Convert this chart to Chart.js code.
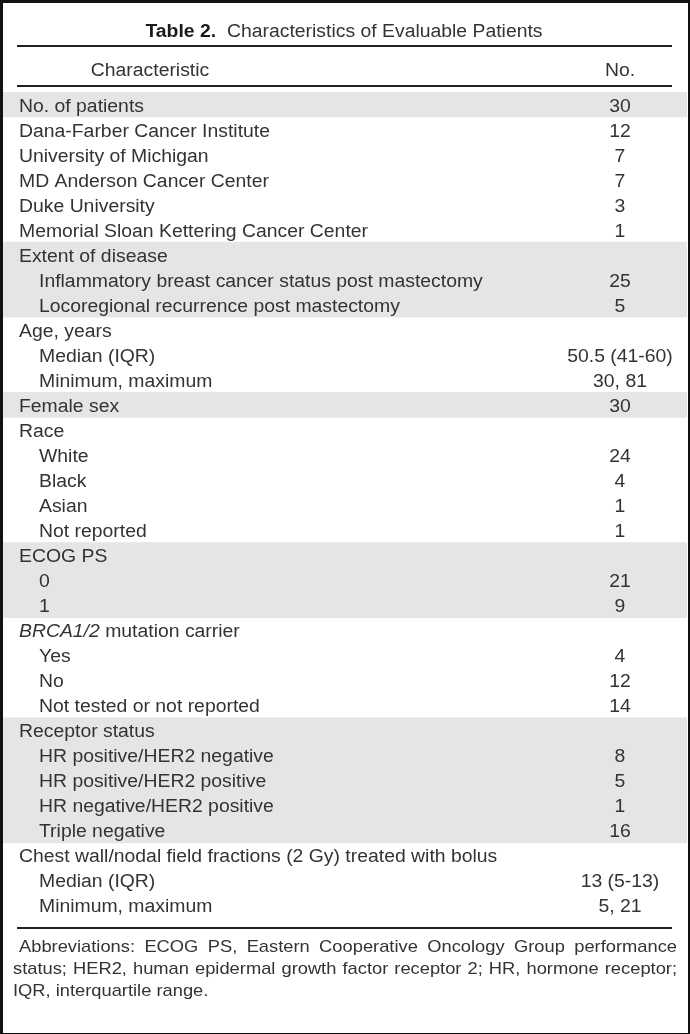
<!DOCTYPE html>
<html>
<head>
<meta charset="utf-8">
<script src="https://cdn.jsdelivr.net/npm/chart.js@4.4.1/dist/chart.umd.min.js"></script>
<style>
  html, body { margin: 0; padding: 0; background: #fff; }
  canvas { display: block; }
</style>
</head>
<body>
<canvas id="table-chart" width="690" height="1034"></canvas>
<script>
// table rows (level 0 = heading, 1 = indented sub row)
const rowLabels = [
  "No. of patients",
  "Dana-Farber Cancer Institute",
  "University of Michigan",
  "MD Anderson Cancer Center",
  "Duke University",
  "Memorial Sloan Kettering Cancer Center",
  "Extent of disease",
  "Inflammatory breast cancer status post mastectomy",
  "Locoregional recurrence post mastectomy",
  "Age, years",
  "Median (IQR)",
  "Minimum, maximum",
  "Female sex",
  "Race",
  "White",
  "Black",
  "Asian",
  "Not reported",
  "ECOG PS",
  "0",
  "1",
  "*BRCA1/2* mutation carrier",
  "Yes",
  "No",
  "Not tested or not reported",
  "Receptor status",
  "HR positive/HER2 negative",
  "HR positive/HER2 positive",
  "HR negative/HER2 positive",
  "Triple negative",
  "Chest wall/nodal field fractions (2 Gy) treated with bolus",
  "Median (IQR)",
  "Minimum, maximum"
];
const rowLevels = [0,0,0,0,0,0, 0,1,1, 0,1,1, 0, 0,1,1,1,1, 0,1,1, 0,1,1,1, 0,1,1,1,1, 0,1,1];
const rowValues = [
  "30","12","7","7","3","1",
  "","25","5",
  "","50.5 (41-60)","30, 81",
  "30",
  "","24","4","1","1",
  "","21","9",
  "","4","12","14",
  "","8","5","1","16",
  "","13 (5-13)","5, 21"
];
// row groups, shaded bands alternate by group
const rowGroups = [0,1,1,1,1,1, 2,2,2, 3,3,3, 4, 5,5,5,5,5, 6,6,6, 7,7,7,7, 8,8,8,8,8, 9,9,9];

const titleBold = "Table 2.";
const titleText = "Characteristics of Evaluable Patients";
const headers = ["Characteristic", "No."];
const footLines = [
  "Abbreviations: ECOG PS, Eastern Cooperative Oncology Group performance",
  "status; HER2, human epidermal growth factor receptor 2; HR, hormone receptor;",
  "IQR, interquartile range."
];

const FONT = "'Liberation Sans Narrow', 'Liberation Sans', sans-serif";
const INK = "#333";

function drawScaled(ctx, text, x, y, sx, align) {
  ctx.save();
  ctx.translate(x, y);
  ctx.scale(sx, 1);
  ctx.textAlign = align || "left";
  ctx.fillText(text, 0, 0);
  ctx.restore();
}

function drawRich(ctx, label, x, y, size, sx) {
  const parts = label.split("*");
  let cx = x;
  parts.forEach((p, k) => {
    if (!p) return;
    ctx.font = (k % 2 ? "italic " : "") + size + "px " + FONT;
    drawScaled(ctx, p, cx, y, sx);
    cx += ctx.measureText(p).width * sx;
  });
}

function drawJustified(ctx, line, x, y, width, sx) {
  const words = line.split(" ");
  const total = words.reduce((s, w) => s + ctx.measureText(w).width * sx, 0);
  const gap = (width - total) / (words.length - 1);
  let cx = x;
  words.forEach(w => {
    drawScaled(ctx, w, cx, y, sx);
    cx += ctx.measureText(w).width * sx + gap;
  });
}

const tablePlugin = {
  id: "tableText",
  beforeDraw(chart) {
    const ctx = chart.ctx;
    ctx.save();
    ctx.fillStyle = "#fff";
    ctx.fillRect(0, 0, chart.width, chart.height);
    ctx.restore();
  },
  afterDatasetsDraw(chart) {
    const ctx = chart.ctx;
    const y = chart.scales.y;
    ctx.save();
    ctx.fillStyle = INK;
    ctx.textBaseline = "alphabetic";

    // fit body font width to the reference
    ctx.font = "18px " + FONT;
    const sx = 349 / ctx.measureText("Memorial Sloan Kettering Cancer Center").width;

    // title
    ctx.font = "bold 18px " + FONT;
    const wb = ctx.measureText(titleBold).width * sx;
    ctx.font = "18px " + FONT;
    const wt = ctx.measureText("  " + titleText).width * sx;
    const tx = 344 - (wb + wt) / 2;
    ctx.fillStyle = "#1a1a1a";
    ctx.font = "bold 18px " + FONT;
    drawScaled(ctx, titleBold, tx, 37, sx);
    ctx.fillStyle = INK;
    ctx.font = "18px " + FONT;
    drawScaled(ctx, "  " + titleText, tx + wb, 37, sx);

    // header
    drawScaled(ctx, headers[0], 150, 76, sx, "center");
    drawScaled(ctx, headers[1], 620, 76, sx, "center");

    // rules
    ctx.fillStyle = "#222";
    ctx.fillRect(17, 45, 655, 2);
    ctx.fillRect(17, 85, 655, 2);
    ctx.fillRect(17, 927, 655, 2);

    // rows
    ctx.fillStyle = INK;
    rowLabels.forEach((lab, i) => {
      const yc = y.getPixelForValue(i) + 7;
      drawRich(ctx, lab, rowLevels[i] ? 39 : 19, yc, 18, sx);
      if (rowValues[i] !== "") {
        ctx.font = "18px " + FONT;
        drawScaled(ctx, rowValues[i], 620, yc, sx, "center");
      }
    });

    // footnote
    ctx.font = "17px " + FONT;
    drawJustified(ctx, footLines[0], 19, 952, 658, sx);
    drawJustified(ctx, footLines[1], 13, 974, 664, sx);
    drawScaled(ctx, footLines[2], 13, 996, sx);

    // frame
    ctx.fillStyle = "#111";
    ctx.fillRect(0, 0, chart.width, 3);
    ctx.fillRect(0, 0, 3, chart.height);
    ctx.fillRect(chart.width - 2, 0, 2, chart.height);
    ctx.fillRect(0, chart.height - 1, chart.width, 1);
    ctx.restore();
  }
};

new Chart(document.getElementById("table-chart"), {
  type: 'bar',
  data: {
    labels: rowLabels,
    datasets: [{
      data: rowGroups.map(g => g % 2 === 0 ? [0, 1] : null),
      backgroundColor: "#e5e5e5",
      borderWidth: 0,
      barPercentage: 1,
      categoryPercentage: 1
    }]
  },
  options: {
    indexAxis: 'y',
    responsive: false,
    animation: false,
    devicePixelRatio: 1,
    layout: { padding: { top: 92, bottom: 116, left: 3, right: 3 } },
    scales: {
      x: { display: false, min: 0, max: 1 },
      y: { display: false }
    },
    plugins: {
      legend: { display: false },
      tooltip: { enabled: false }
    }
  },
  plugins: [tablePlugin]
});
</script>
</body>
</html>
